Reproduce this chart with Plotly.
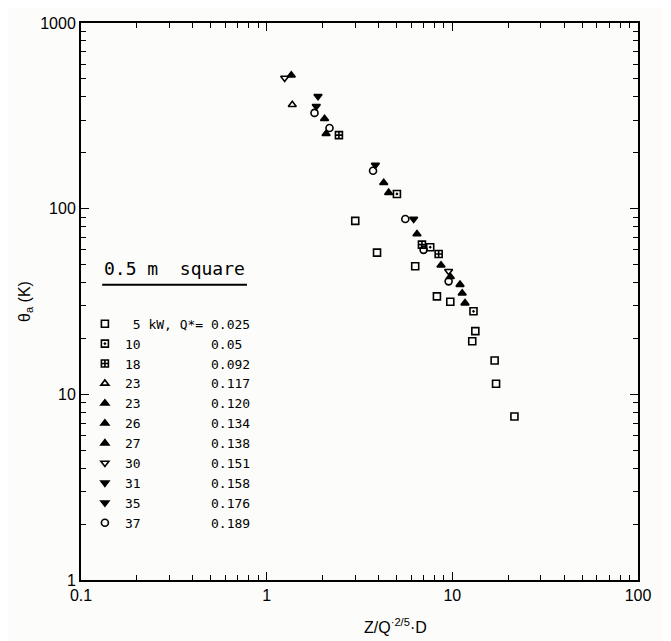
import plotly.graph_objects as go

NB = "\u00a0"

# Series: (legend label pieces), symbols
power_kw = ["5", "10", "18", "23", "23", "26", "27", "30", "31", "35", "37"]
q_star = ["0.025", "0.05", "0.092", "0.117", "0.120", "0.134", "0.138", "0.151", "0.158", "0.176", "0.189"]
symbols = ["square-open", "square-open-dot", "square-cross-open", "triangle-up-open", "triangle-up",
           "triangle-up", "triangle-up", "triangle-down-open", "triangle-down", "triangle-down", "circle-open"]

x_5 = [3.0, 3.93, 6.31, 8.26, 9.75, 13.3, 12.8, 16.9, 17.2, 21.6]
y_5 = [86, 58, 49, 33.7, 31.5, 21.9, 19.3, 15.2, 11.4, 7.6]
x_10 = [5.03, 7.6, 13.0]
y_10 = [120, 62, 28]
x_18 = [2.45, 6.86, 8.44]
y_18 = [249, 64, 57]
x_23a = [1.374]
y_23a = [363]
x_23b = [2.05, 4.27]
y_23b = [305, 138]
x_26 = [2.09, 6.45, 9.75]
y_26 = [253, 73, 43]
x_27 = [1.357, 4.54, 8.69, 11.0, 11.3, 11.7]
y_27 = [523, 122, 49.6, 39, 35, 31]
x_30 = [1.25, 9.55]
y_30 = [506, 46]
x_31 = [1.89, 6.19]
y_31 = [403, 88]
x_35 = [1.85, 3.85]
y_35 = [356, 172]
x_37 = [1.81, 2.18, 3.74, 5.58, 7.0, 9.55]
y_37 = [328, 272, 160, 88, 60, 40.6]

xs = [x_5, x_10, x_18, x_23a, x_23b, x_26, x_27, x_30, x_31, x_35, x_37]
ys = [y_5, y_10, y_18, y_23a, y_23b, y_26, y_27, y_30, y_31, y_35, y_37]

x_tick_vals = [0.1, 1, 10, 100]
x_tick_text = ["0.1", "1", "10", "100"]
y_tick_vals = [1, 10, 100, 1000]
y_tick_text = ["1", "10", "100", "1000"]
x_minor_vals = [m * d for d in (0.1, 1, 10) for m in range(2, 10)]
y_minor_vals = [m * d for d in (1, 10, 100) for m in range(2, 10)]


def label(i):
    p = power_kw[i]
    if i == 0:
        head = NB + p + NB + "kW," + NB + "Q*=" + NB
    else:
        head = p.rjust(2, NB)
    head = head.ljust(11, NB)
    return head + q_star[i]


fig = go.Figure()
for i in range(len(xs)):
    fig.add_trace(go.Scatter(
        x=xs[i], y=ys[i], mode="markers", name=label(i),
        marker=dict(symbol=symbols[i], size=7, color="black",
                    line=dict(color="black", width=1.6)),
    ))

axis_common = dict(
    type="log", showgrid=False, zeroline=False, automargin=False,
    showline=True, linecolor="black", linewidth=2, mirror="allticks",
    ticks="inside", ticklen=8, tickwidth=1.2, tickcolor="black",
    tickfont=dict(family="Liberation Sans, Arial, sans-serif", size=16, color="black"),
)

fig.update_xaxes(range=[-1, 2], tickvals=x_tick_vals, ticktext=x_tick_text,
                 minor=dict(tickmode="array", tickvals=x_minor_vals, ticks="inside", ticklen=5,
                            tickwidth=1, tickcolor="black", showgrid=False),
                 **axis_common)
fig.update_yaxes(range=[0, 3], tickvals=y_tick_vals, ticktext=y_tick_text,
                 minor=dict(tickmode="array", tickvals=y_minor_vals, ticks="inside", ticklen=5,
                            tickwidth=1, tickcolor="black", showgrid=False),
                 title=dict(text="θ<sub>a</sub> (K)", standoff=6,
                            font=dict(family="Liberation Sans, Arial, sans-serif", size=16, color="black")),
                 **axis_common)

fig.add_annotation(
    text="Z/Q<sup>·2/5</sup>·D", xref="paper", yref="paper", x=0.565, y=-0.083,
    yanchor="middle", xanchor="center", showarrow=False,
    font=dict(family="Liberation Sans, Arial, sans-serif", size=16, color="black"),
)

fig.add_annotation(
    text="0.5" + NB + "m" + NB + NB + "square", xref="paper", yref="paper",
    x=0.038, y=0.56, xanchor="left", yanchor="middle", showarrow=False,
    font=dict(family="DejaVu Sans Mono, monospace", size=18, color="black"),
)
fig.add_shape(type="line", xref="paper", yref="paper", x0=0.038, x1=0.298, y0=0.53, y1=0.53,
              line=dict(color="black", width=2))

fig.update_layout(
    width=671, height=641,
    margin=dict(l=73, r=41, t=15, b=69),
    paper_bgcolor="#fcfcfa", plot_bgcolor="#fcfcfa",
    showlegend=True,
    legend=dict(x=0.007, y=0.487, xanchor="left", yanchor="top",
                bgcolor="rgba(0,0,0,0)", borderwidth=0,
                font=dict(family="DejaVu Sans Mono, monospace", size=13, color="black"),
                itemwidth=30, tracegroupgap=0),
)

fig.write_html("out.html")
